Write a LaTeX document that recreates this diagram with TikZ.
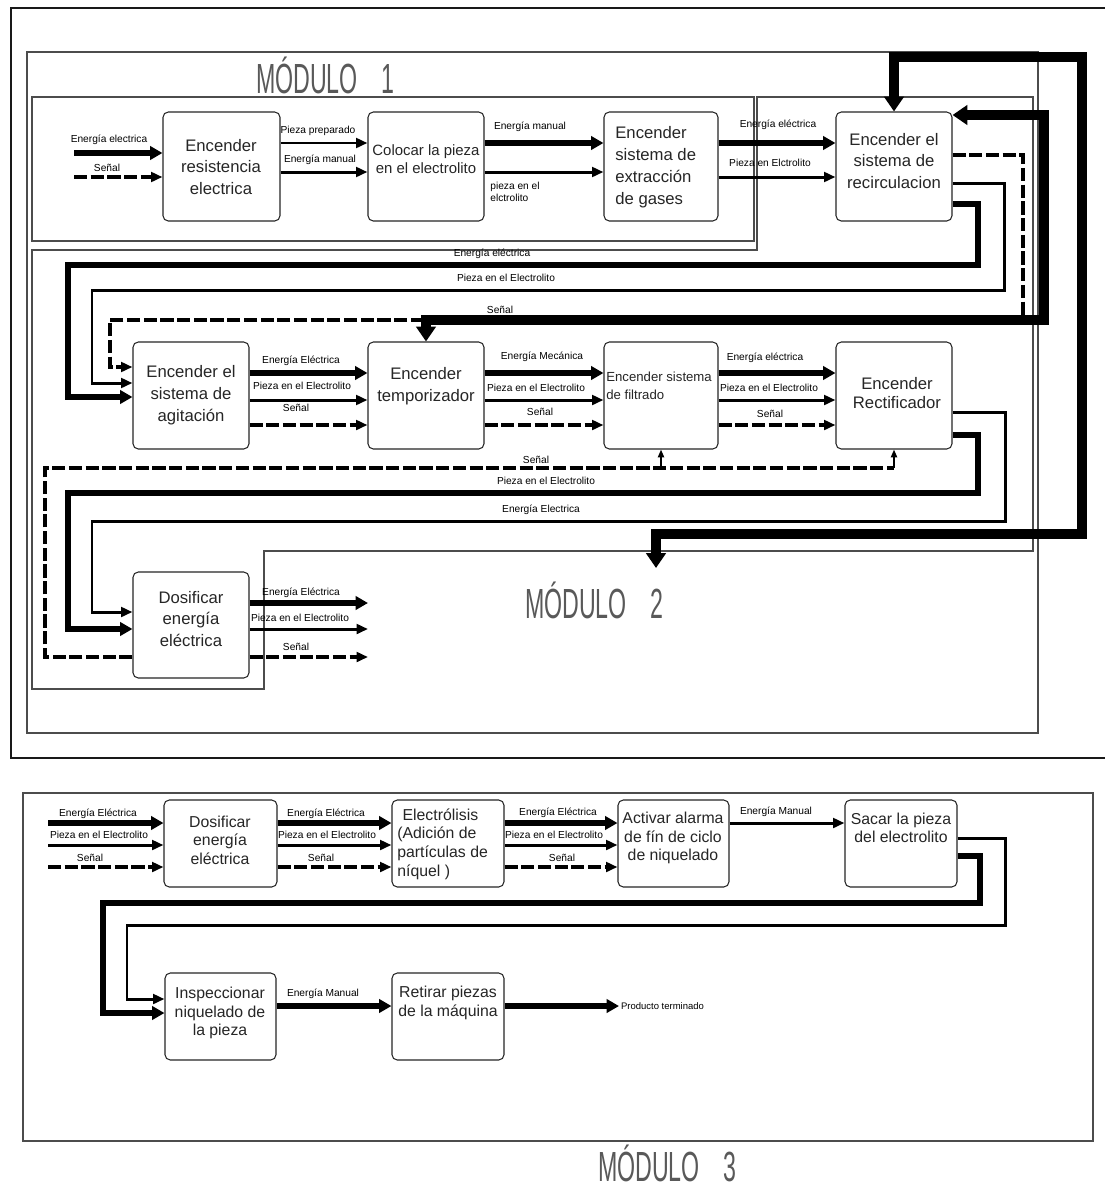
\documentclass[tikz,border=0pt]{standalone}
\usepackage{fontspec}
\setmainfont{Liberation Sans}
\usepackage{graphicx}
\usetikzlibrary{arrows.meta, fit}

\begin{document}
\begin{tikzpicture}[
  x=0.02cm, y=-0.02cm,
  box/.style={draw=black!85, line width=0.6pt, rounded corners=3pt, inner sep=0pt},
  btxt/.style={font=\fontsize{9.5}{12.5}\selectfont, align=center, inner sep=0pt, text=black!85},
  ctxt/.style={font=\fontsize{9}{10.6}\selectfont, align=center, inner sep=0pt, text=black!85},
  lbl/.style={font=\fontsize{5.8}{7}\selectfont, inner sep=0pt},
  modtitle/.style={font=\fontsize{24}{24}\selectfont, text=black!65, inner sep=0pt, anchor=base},
  outerframe/.style={line width=1.1pt, black!90},
  modframe/.style={line width=0.6pt, black!70},
  pieza/.style={line width=1.7pt, -{Triangle[length=6.5pt, width=5.5pt]}},
  energia/.style={line width=3.2pt, -{Triangle[length=7pt, width=7.5pt]}},
  heavy/.style={line width=5.7pt, {Triangle[length=8.5pt, width=11pt]}-{Triangle[length=8.5pt, width=11pt]}},
  senal/.style={line width=2pt, dash pattern=on 7.5pt off 2pt, -{Triangle[length=6.5pt, width=5.5pt]}},
  senalup/.style={line width=1.1pt, -{Triangle[length=4.5pt, width=3.5pt]}},
]
\path[fill=white, use as bounding box] (0,0) rectangle (1105,1191);

% === Frames ===
\draw[outerframe] (1105,8) -- (11,8) -- (11,758) -- (1105,758);
\draw[modframe] (27,52) rectangle (1038,733);
\draw[modframe] (32,97) rectangle (754,241);
\draw[modframe] (32,250) -- (757,250) -- (757,97) -- (1033,97) -- (1033,551)
  -- (264,551) -- (264,689) -- (32,689) -- cycle;
\draw[modframe] (23,793) rectangle (1093,1141);

\node[modtitle] (m1) at (325,93) {\scalebox{0.55}[1]{MÓDULO\hspace{1em}1}};
\node[modtitle] (m2) at (594,618) {\scalebox{0.55}[1]{MÓDULO\hspace{1em}2}};
\node[modtitle] (m3) at (667,1181) {\scalebox{0.55}[1]{MÓDULO\hspace{1em}3}};

% === Module 1 ===
\node[box, fit={(163,112) (280,221)}] (B1) {};
\node[box, fit={(368,112) (484,221)}] (B2) {};
\node[box, fit={(604,112) (718,221)}] (B3) {};
\node[box, fit={(836,112) (952,221)}] (B4) {};
\node[btxt] (B1t) at (221,167) {Encender\\resistencia\\electrica};
\node[btxt, font=\fontsize{8.5}{10.4}\selectfont] (B2t) at (426,159) {Colocar la pieza\\en el electrolito};
\node[btxt, align=left, anchor=west] (B3t) at (615,167) {Encender\\sistema de\\extracción\\de gases};
\node[btxt] (B4t) at (894,161) {Encender el\\sistema de\\recirculacion};

\coordinate (inE) at (74,153);
\coordinate (inS) at (74,177);
\draw[energia] (inE) -- (B1.west |- inE);
\draw[senal] (inS) -- (B1.west |- inS);
\draw[pieza] (B1.east |- 0,143) -- (B2.west |- 0,143);
\draw[pieza] (B1.east |- 0,172) -- (B2.west |- 0,172);
\draw[energia] (B2.east |- 0,143) -- (B3.west |- 0,143);
\draw[pieza] (B2.east |- 0,172) -- (B3.west |- 0,172);
\draw[energia] (B3.east |- 0,143) -- (B4.west |- 0,143);
\draw[pieza] (B3.east |- 0,177) -- (B4.west |- 0,177);

\node[lbl] (l1) at (109,140) {Energía electrica};
\node[lbl] (l2) at (107,168) {Señal};
\node[lbl] (l3) at (318,131) {Pieza preparado};
\node[lbl] (l4) at (320,160) {Energía manual};
\node[lbl] (l5) at (530,127) {Energía manual};
\node[lbl, align=left, anchor=west] (l6) at (490,192) {pieza en el\\elctrolito};
\node[lbl] (l7) at (778,125) {Energía eléctrica};
\node[lbl] (l8) at (770,163) {Pieza en Elctrolito};

% === Module 2 ===
\node[box, fit={(133,342) (249,449)}] (B5) {};
\node[box, fit={(368,342) (484,449)}] (B6) {};
\node[box, fit={(604,342) (718,449)}] (B7) {};
\node[box, fit={(836,342) (952,449)}] (B8) {};
\node[box, fit={(133,572) (249,678)}] (B9) {};
\node[btxt] (B5t) at (191,395) {Encender el\\sistema de\\agitación};
\node[btxt] (B6t) at (426,386) {Encender\\temporizador};
\node[btxt, font=\fontsize{7.5}{10.2}\selectfont, align=left, anchor=west] (B7t) at (606,386) {Encender sistema\\de filtrado};
\node[btxt, font=\fontsize{9.5}{11}\selectfont] (B8t) at (897,393) {Encender\\Rectificador};
\node[btxt] (B9t) at (191,619) {Dosificar\\energía\\eléctrica};

% loops from recirculation
\draw[senal] (B4.east |- 0,155) -| (1023,320) -| (110,367) -- (B5.west |- 0,367);
\draw[pieza] (B4.east |- 0,183) -| (1004,290) -| (92,383) -- (B5.west |- 0,383);
\draw[energia] (B4.east |- 0,204) -| (978,265) -| (68,397) -- (B5.west |- 0,397);
\coordinate (m2in) at (656,568);
\draw[heavy] (B4.north) |- (1082,57) |- (656,534) -- (m2in);
\draw[heavy] (B4.east |- 0,115) -| (1044,320) -| (B6.north);

\node[lbl] (l9) at (492,254) {Energía eléctrica};
\node[lbl] (l10) at (506,278) {Pieza en el Electrolito};
\node[lbl] (l11) at (500,310) {Señal};

\draw[energia] (B5.east |- 0,373) -- (B6.west |- 0,373);
\draw[pieza] (B5.east |- 0,400) -- (B6.west |- 0,400);
\draw[senal] (B5.east |- 0,425) -- (B6.west |- 0,425);
\draw[energia] (B6.east |- 0,373) -- (B7.west |- 0,373);
\draw[pieza] (B6.east |- 0,400) -- (B7.west |- 0,400);
\draw[senal] (B6.east |- 0,425) -- (B7.west |- 0,425);
\draw[energia] (B7.east |- 0,373) -- (B8.west |- 0,373);
\draw[pieza] (B7.east |- 0,400) -- (B8.west |- 0,400);
\draw[senal] (B7.east |- 0,425) -- (B8.west |- 0,425);

\node[lbl] (l12) at (301,361) {Energía Eléctrica};
\node[lbl] (l13) at (302,386) {Pieza en el Electrolito};
\node[lbl] (l14) at (296,408) {Señal};
\node[lbl] (l15) at (542,357) {Energía Mecánica};
\node[lbl] (l16) at (536,388) {Pieza en el Electrolito};
\node[lbl] (l17) at (540,412) {Señal};
\node[lbl] (l18) at (765,358) {Energía eléctrica};
\node[lbl] (l19) at (769,388) {Pieza en el Electrolito};
\node[lbl] (l20) at (770,414) {Señal};

% loops from rectifier
\draw[pieza] (B8.east |- 0,412) -| (1005,521) -| (92,612) -- (B9.west |- 0,612);
\draw[energia] (B8.east |- 0,435) -| (978,493) -| (68,629) -- (B9.west |- 0,629);
\coordinate (s7) at (B7.south |- 0,468);
\coordinate (s8) at (B8.south |- 0,468);
\draw[senal, -] (B9.west |- 0,657) -| (45,468) -- (s8);
\draw[senalup] (s7) -- (B7.south);
\draw[senalup] (s8) -- (B8.south);

\node[lbl] (l21) at (536,460) {Señal};
\node[lbl] (l22) at (546,481) {Pieza en el Electrolito};
\node[lbl] (l23) at (541,510) {Energía Electrica};

\coordinate (o1) at (368,603);
\coordinate (o2) at (368,629);
\coordinate (o3) at (368,657);
\draw[energia] (B9.east |- o1) -- (o1);
\draw[pieza] (B9.east |- o2) -- (o2);
\draw[senal] (B9.east |- o3) -- (o3);
\node[lbl] (l24) at (301,593) {Energía Eléctrica};
\node[lbl] (l25) at (300,618) {Pieza en el Electrolito};
\node[lbl] (l26) at (296,647) {Señal};

% === Module 3 ===
\node[box, fit={(164,800) (277,887)}] (C1) {};
\node[box, fit={(392,800) (504,887)}] (C2) {};
\node[box, fit={(618,800) (729,887)}] (C3) {};
\node[box, fit={(845,800) (957,887)}] (C4) {};
\node[box, fit={(165,973) (276,1060)}] (C5) {};
\node[box, fit={(392,973) (504,1060)}] (C6) {};
\node[ctxt] (C1t) at (220,840) {Dosificar\\energía\\eléctrica};
\node[ctxt, align=left, anchor=west] (C2t) at (397,844) {\hspace*{3pt}Electrólisis\\(Adición de\\partículas de\\níquel )};
\node[ctxt] (C3t) at (673,838) {Activar alarma\\de fín de ciclo\\de niquelado};
\node[ctxt] (C4t) at (901,828) {Sacar la pieza\\del electrolito};
\node[ctxt] (C5t) at (220,1013) {Inspeccionar\\niquelado de\\la pieza};
\node[ctxt] (C6t) at (448,1003) {Retirar piezas\\de la máquina};

\coordinate (iE) at (48,823);
\coordinate (iP) at (48,845);
\coordinate (iS) at (48,867);
\draw[energia] (iE) -- (C1.west |- iE);
\draw[pieza] (iP) -- (C1.west |- iP);
\draw[senal] (iS) -- (C1.west |- iS);
\draw[energia] (C1.east |- 0,823) -- (C2.west |- 0,823);
\draw[pieza] (C1.east |- 0,845) -- (C2.west |- 0,845);
\draw[senal] (C1.east |- 0,867) -- (C2.west |- 0,867);
\draw[energia] (C2.east |- 0,823) -- (C3.west |- 0,823);
\draw[pieza] (C2.east |- 0,845) -- (C3.west |- 0,845);
\draw[senal] (C2.east |- 0,867) -- (C3.west |- 0,867);
\draw[pieza] (C3.east |- 0,823) -- (C4.west |- 0,823);

\node[lbl] (l27) at (98,814) {Energía Eléctrica};
\node[lbl] (l28) at (99,835) {Pieza en el Electrolito};
\node[lbl] (l29) at (90,858) {Señal};
\node[lbl] (l30) at (326,814) {Energía Eléctrica};
\node[lbl] (l31) at (327,835) {Pieza en el Electrolito};
\node[lbl] (l32) at (321,858) {Señal};
\node[lbl] (l33) at (558,813) {Energía Eléctrica};
\node[lbl] (l34) at (554,835) {Pieza en el Electrolito};
\node[lbl] (l35) at (562,858) {Señal};
\node[lbl] (l36) at (776,812) {Energía Manual};

% loops from extraction
\draw[pieza] (C4.east |- 0,838) -| (1005,925) -| (127,999) -- (C5.west |- 0,999);
\draw[energia] (C4.east |- 0,856) -| (980,903) -| (103,1013) -- (C5.west |- 0,1013);

\coordinate (prod) at (619,1006);
\draw[energia] (C5.east |- 0,1006) -- (C6.west |- 0,1006);
\draw[energia] (C6.east |- prod) -- (prod);
\node[lbl] (l37) at (323,994) {Energía Manual};
\node[lbl, font=\fontsize{5.4}{6}\selectfont, anchor=west] (l38) at ([xshift=1pt]prod) {Producto terminado};

\end{tikzpicture}
\end{document}
